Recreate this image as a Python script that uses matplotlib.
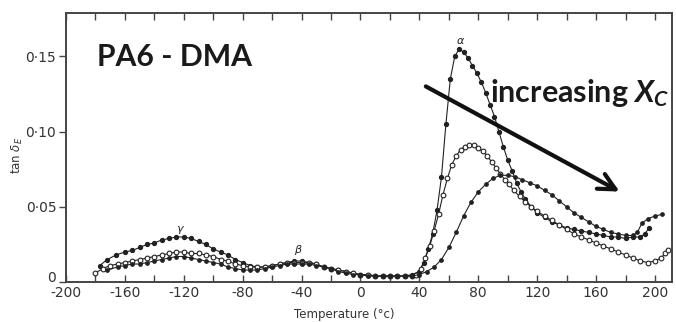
import numpy as np
import matplotlib.pyplot as plt

plt.rcParams['font.family'] = ['DejaVu Sans']
plt.rcParams['mathtext.fontset'] = 'custom'
plt.rcParams['mathtext.rm'] = 'Lato:bold'
plt.rcParams['mathtext.it'] = 'Lato:bold:italic'

# Curve with the sharp alpha peak (filled circles)
temp_a = [-177, -172, -166, -160, -155, -150, -145, -140, -135, -130, -125, -120,
          -115, -110, -105, -100, -95, -90, -85, -80, -75, -70, -65, -60, -55, -50,
          -45, -40, -35, -30, -25, -20, -15, -10, -5, 0, 5, 10, 15, 20, 25, 30, 35,
          40, 43, 46, 49, 52, 55, 58, 61, 64, 67, 70, 73, 76, 79, 82, 85, 88, 91,
          94, 97, 100, 103, 106, 109, 112, 116, 120, 125, 130, 135, 140, 145, 150,
          155, 160, 165, 170, 175, 180, 185, 190, 193, 196]
tan_a = [0.011, 0.015, 0.018, 0.020, 0.021, 0.023, 0.025, 0.026, 0.028, 0.029, 0.030, 0.030,
         0.029, 0.027, 0.025, 0.022, 0.020, 0.018, 0.015, 0.013, 0.011, 0.010, 0.010, 0.011,
         0.012, 0.013, 0.014, 0.014, 0.013, 0.012, 0.010, 0.009, 0.008, 0.007, 0.006, 0.005,
         0.005, 0.004, 0.004, 0.004, 0.004, 0.004, 0.005, 0.007, 0.013, 0.022, 0.032, 0.048,
         0.070, 0.105, 0.135, 0.150, 0.155, 0.153, 0.149, 0.144, 0.139, 0.133, 0.126, 0.118,
         0.110, 0.100, 0.090, 0.081, 0.074, 0.066, 0.060, 0.055, 0.050, 0.046, 0.043, 0.040,
         0.038, 0.036, 0.035, 0.034, 0.033, 0.032, 0.031, 0.030, 0.030, 0.029, 0.030, 0.030,
         0.032, 0.036]

# Middle curve (open circles)
temp_b = [-180, -175, -170, -165, -160, -155, -150, -145, -140, -135, -130, -125, -120,
          -115, -110, -105, -100, -95, -90, -85, -80, -75, -70, -65, -60, -55, -50, -45,
          -40, -35, -30, -25, -20, -15, -10, -5, 0, 5, 10, 15, 20, 25, 30, 35, 38, 41,
          44, 47, 50, 53, 56, 59, 62, 65, 68, 71, 74, 77, 80, 83, 86, 89, 92, 95, 98,
          101, 104, 108, 112, 116, 120, 125, 130, 135, 140, 145, 150, 155, 160, 165,
          170, 175, 180, 185, 190, 195, 200, 204, 207, 209]
tan_b = [0.006, 0.009, 0.011, 0.012, 0.013, 0.014, 0.015, 0.016, 0.017, 0.018, 0.019, 0.020,
         0.020, 0.019, 0.019, 0.018, 0.017, 0.015, 0.014, 0.012, 0.011, 0.010, 0.010, 0.010,
         0.011, 0.012, 0.013, 0.013, 0.013, 0.013, 0.012, 0.010, 0.009, 0.008, 0.007, 0.006,
         0.005, 0.005, 0.004, 0.004, 0.004, 0.004, 0.004, 0.004, 0.005, 0.009, 0.016, 0.024,
         0.034, 0.045, 0.058, 0.069, 0.078, 0.084, 0.088, 0.090, 0.091, 0.091, 0.089, 0.087,
         0.084, 0.080, 0.076, 0.072, 0.068, 0.065, 0.061, 0.057, 0.053, 0.050, 0.047, 0.044,
         0.041, 0.038, 0.035, 0.032, 0.030, 0.028, 0.026, 0.024, 0.022, 0.020, 0.018, 0.016,
         0.014, 0.013, 0.014, 0.016, 0.019, 0.021]

# Broad, low alpha peak (filled small markers)
temp_c = [-172, -165, -160, -155, -150, -145, -140, -135, -130, -125, -120, -115, -110,
          -105, -100, -95, -90, -85, -80, -75, -70, -65, -60, -55, -50, -45, -40, -35,
          -30, -25, -20, -15, -10, -5, 0, 5, 10, 15, 20, 25, 30, 35, 40, 45, 50, 55, 60,
          65, 70, 75, 80, 85, 90, 95, 100, 105, 110, 115, 120, 125, 130, 135, 140, 145,
          150, 155, 160, 165, 170, 175, 180, 185, 188, 191, 195, 200, 205]
tan_c = [0.008, 0.010, 0.011, 0.012, 0.012, 0.013, 0.014, 0.015, 0.016, 0.017, 0.017, 0.016,
         0.015, 0.014, 0.013, 0.012, 0.010, 0.009, 0.008, 0.008, 0.008, 0.009, 0.010, 0.011,
         0.012, 0.012, 0.012, 0.012, 0.011, 0.010, 0.009, 0.007, 0.006, 0.005, 0.005, 0.004,
         0.004, 0.004, 0.004, 0.004, 0.004, 0.004, 0.005, 0.007, 0.010, 0.015, 0.023, 0.033,
         0.044, 0.053, 0.060, 0.065, 0.069, 0.071, 0.071, 0.070, 0.068, 0.066, 0.064, 0.061,
         0.058, 0.054, 0.050, 0.046, 0.043, 0.040, 0.037, 0.035, 0.033, 0.032, 0.031, 0.031,
         0.033, 0.039, 0.042, 0.044, 0.045]

xticks = [-200, -160, -120, -80, -40, 0, 40, 80, 120, 160, 200]
xtick_labels = ['-200', '-160', '-120', '-80', '-40', '0', '40', '80', '120', '160', '200']
yticks = [0, 0.05, 0.10, 0.15]
ytick_labels = ['0', '0·05', '0·10', '0·15']

ink = '#222222'

fig = plt.figure(figsize=(6.76, 3.22), dpi=100)
ax = fig.add_axes([0.0976, 0.124, 0.8964, 0.836])

ax.plot(temp_a, tan_a, color=ink, lw=0.8, marker='o', ms=2.8, mfc=ink, mec=ink)
ax.plot(temp_b, tan_b, color=ink, lw=0.8, marker='o', ms=3.4, mfc='white', mec=ink, mew=0.8)
ax.plot(temp_c, tan_c, color=ink, lw=0.8, marker='o', ms=2.4, mfc=ink, mec=ink)

# Greek relaxation labels
ax.text(-123, 0.0335, 'γ', fontsize=8, style='italic', color=ink, ha='center')
ax.text(-43, 0.019, 'β', fontsize=8, style='italic', color=ink, ha='center')
ax.text(68, 0.158, 'α', fontsize=8, style='italic', color=ink, ha='center')

# Overlay annotations
ax.text(-179, 0.1435, 'PA6 - DMA', fontsize=21.7, family='Lato', weight='bold',
        color='#1a1a1a', va='baseline', ha='left')
ax.text(88, 0.120, r'increasing $X_C$', fontsize=22, family='Lato', weight='bold',
        color='#1a1a1a', va='baseline', ha='left')
ax.annotate('', xy=(177.6, 0.0593), xytext=(42.7, 0.131),
            arrowprops=dict(arrowstyle='->', lw=3, color='#111111', mutation_scale=30))

ax.set_xlim(-200, 211.5)
ax.set_ylim(0, 0.179)
ax.set_xticks(xticks)
ax.set_xticklabels(xtick_labels)
ax.set_xticks(np.arange(-200, 212, 20), minor=True)
ax.set_yticks(yticks)
ax.set_yticklabels(ytick_labels)
ax.get_yticklabels()[0].set_verticalalignment('baseline')

ax.tick_params(axis='x', which='both', direction='in', top=True, length=5,
               width=1, color='#444444', labelsize=10, labelcolor='#333333', pad=3)
ax.tick_params(axis='y', direction='out', length=5, width=1, color='#444444',
               labelsize=10, labelcolor='#333333', pad=2)
for s in ax.spines.values():
    s.set_linewidth(1.4)
    s.set_color('#444444')

ax.set_xlabel('Temperature (°c)', fontsize=8.5, color='#333333', va='center')
ax.xaxis.set_label_coords(0.46, -0.12)
ax.set_ylabel(r'tan $\delta_E$', fontsize=8.5, color='#333333', math_fontfamily='dejavusans')
ax.yaxis.set_label_coords(-0.068, 0.47)

fig.savefig('out.png', dpi=100)
